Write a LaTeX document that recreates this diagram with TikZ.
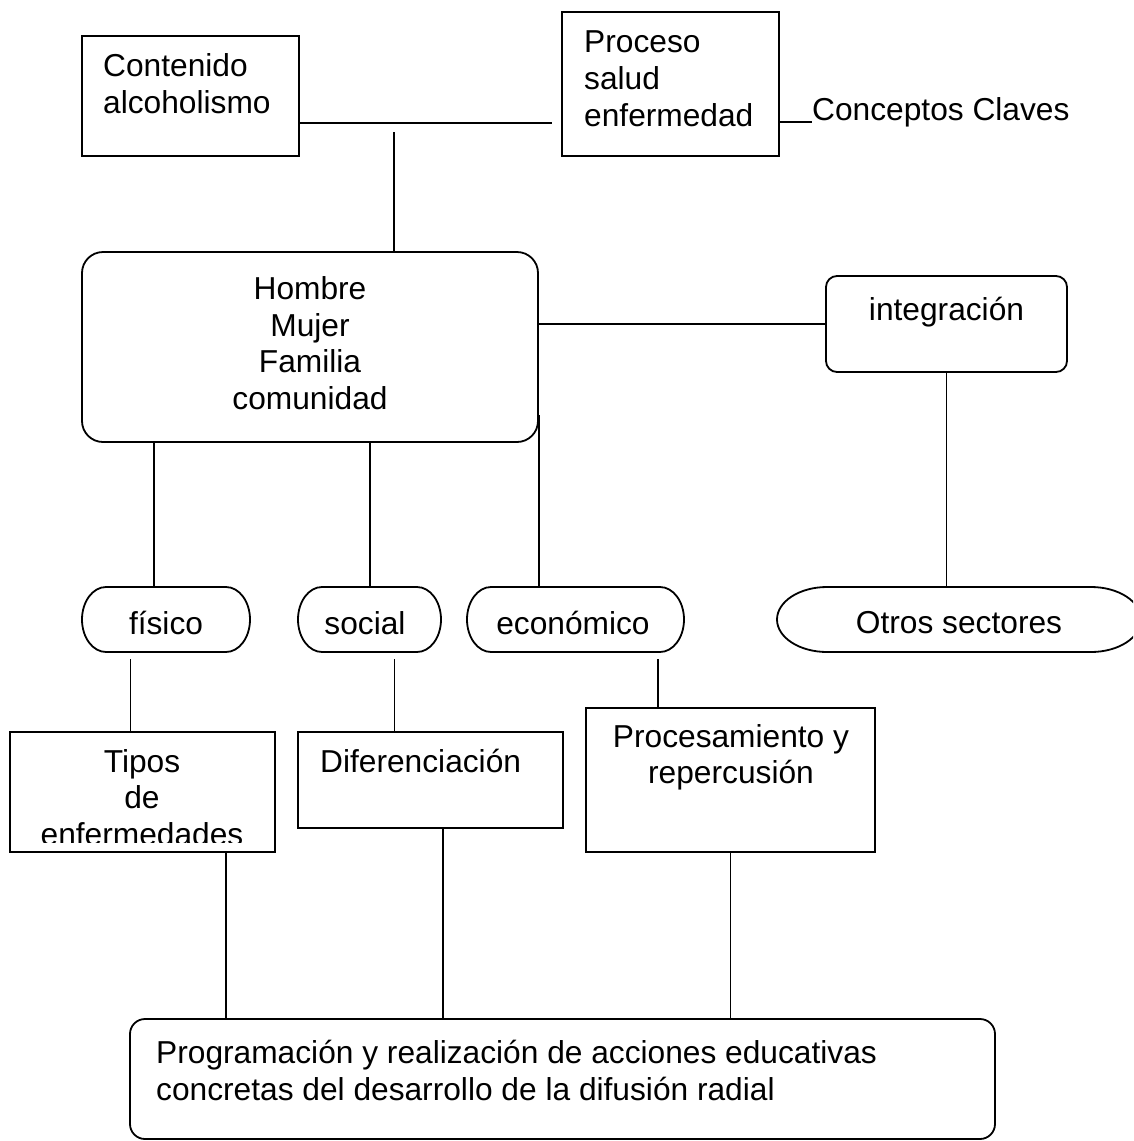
\documentclass[tikz,border=0pt]{standalone}
\usepackage{fontspec}
\setmainfont{Liberation Sans}
\newcommand\pillshape[5]{%
 \pgfmathsetmacro\pxa{#1+#5}%
 \pgfmathsetmacro\pxb{#2-#5}%
 \pgfmathsetmacro\pym{(#3+#4)/2}%
 \pgfmathsetmacro\pkx{0.5523*#5}%
 \pgfmathsetmacro\pky{0.5523*(#4-#3)/2}%
 \draw[pillline] (\pxa,#3) -- (\pxb,#3)
   .. controls ({\pxb+\pkx},#3) and (#2,{\pym-\pky}) .. (#2,\pym)
   .. controls (#2,{\pym+\pky}) and ({\pxb+\pkx},#4) .. (\pxb,#4)
   -- (\pxa,#4)
   .. controls ({\pxa-\pkx},#4) and (#1,{\pym+\pky}) .. (#1,\pym)
   .. controls (#1,{\pym-\pky}) and ({\pxa-\pkx},#3) .. (\pxa,#3) -- cycle;}
\begin{document}
\begin{tikzpicture}[x=1pt,y=-1pt,
  box/.style={draw, line width=1.8pt, inner sep=0pt},
  shp/.style={inner sep=0pt},
  pillline/.style={line width=1.8pt},
  conn/.style={line width=1.3pt},
  txt/.style={inner sep=0pt, font=\fontsize{31.7}{36.5}\selectfont}]
\useasboundingbox (0,0) rectangle (1133,1141);
\clip (0,0) rectangle (1133,1141);

% shapes
\node[box, minimum width=217pt, minimum height=120pt] (contenido) at (190.5,96) {};
\node[box, minimum width=217pt, minimum height=144pt] (proceso) at (670.5,84) {};
\node[box, rounded corners=21pt, minimum width=456pt, minimum height=190pt] (hombre) at (310,347) {};
\node[box, rounded corners=11pt, minimum width=241pt, minimum height=96pt] (integ) at (946.5,324) {};
\node[shp, minimum width=168pt, minimum height=65pt] (fisico) at (166,619.5) {};
\node[shp, minimum width=143pt, minimum height=65pt] (social) at (369.5,619.5) {};
\node[shp, minimum width=217pt, minimum height=65pt] (econ) at (575.5,619.5) {};
\node[shp, minimum width=364pt, minimum height=65pt] (otros) at (959,619.5) {};
\pillshape{82}{250}{587}{652}{24}
\pillshape{298}{441}{587}{652}{24}
\pillshape{467}{684}{587}{652}{24}
\pillshape{777}{1141}{587}{652}{50}
\node[box, minimum width=265pt, minimum height=120pt] (tipos) at (142.5,792) {};
\node[box, minimum width=265pt, minimum height=96pt] (dif) at (430.5,780) {};
\node[box, minimum width=289pt, minimum height=144pt] (proc) at (730.5,780) {};
\node[box, rounded corners=15pt, minimum width=865pt, minimum height=120pt] (prog) at (562.5,1079) {};

% texts
\node[txt, anchor=base west] (tc1) at (103,76) {Contenido};
\node[txt, anchor=base west] (tc2) at (103,113) {alcoholismo};
\node[txt, anchor=base west] (tp1) at (584,52) {Proceso};
\node[txt, anchor=base west] (tp2) at (584,89) {salud};
\node[txt, anchor=base west] (tp3) at (584,126) {enfermedad};
\node[txt, anchor=base west] (conceptos) at (812,120) {Conceptos Claves};
\node[txt, anchor=base] (th1) at (310,299.5) {Hombre};
\node[txt, anchor=base] (th2) at (310,336) {Mujer};
\node[txt, anchor=base] (th3) at (310,372.5) {Familia};
\node[txt, anchor=base] (th4) at (310,409) {comunidad};
\node[txt, anchor=base] (ti) at (946.5,320) {integración};
\node[txt, anchor=base] (tf) at (166,634) {físico};
\node[txt, anchor=base] (ts) at (365,634) {social};
\node[txt, anchor=base] (te) at (573,634) {económico};
\node[txt, anchor=base] (to) at (959,633) {Otros sectores};
\node[txt, anchor=base] (tt1) at (142,772) {Tipos};
\node[txt, anchor=base] (tt2) at (142,808.5) {de};
\begin{scope}
\clip (0,0) rectangle (1133,842);
\node[txt, anchor=base] (tt3) at (142,845) {enfermedades};
\end{scope}
\node[txt, anchor=base west] (td) at (320,772) {Diferenciación};
\node[txt, anchor=base] (tr1) at (731,747) {Procesamiento y};
\node[txt, anchor=base] (tr2) at (731,783) {repercusión};
\node[txt, anchor=base west] (tg1) at (156,1063) {Programación y realización de acciones educativas};
\node[txt, anchor=base west] (tg2) at (156,1100) {concretas del desarrollo de la difusión radial};

% connectors
\coordinate (c1) at (552,123);
\coordinate (c2) at (394,132);
\draw[conn] ([yshift=-27pt]contenido.east) -- (c1);
\draw[conn] (c2) -- ([xshift=84pt]hombre.north);
\draw[conn] ([yshift=-38pt]proceso.east) -- ([yshift=-38pt]proceso.east -| conceptos.west);
\draw[conn] (hombre.east |- integ.west) -- (integ.west);
\draw[conn] (integ.south) -- (integ.south |- otros.north);
\draw[conn] ([xshift=-156pt]hombre.south) -- ([xshift=-156pt]hombre.south |- fisico.north);
\draw[conn] ([xshift=60pt]hombre.south) -- ([xshift=60pt]hombre.south |- social.north);
\draw[conn] ([yshift=-68pt]hombre.east) -- (hombre.east |- econ.north);
\draw[conn] ([xshift=-35.5pt,yshift=-7pt]fisico.south) -- ([xshift=-35.5pt]fisico.south |- tipos.north);
\draw[conn] ([xshift=25pt,yshift=-7pt]social.south) -- ([xshift=25pt]social.south |- dif.north);
\draw[conn] ([xshift=82.5pt,yshift=-7pt]econ.south) -- ([xshift=82.5pt]econ.south |- proc.north);
\draw[conn] ([xshift=83.5pt]tipos.south) -- ([xshift=83.5pt]tipos.south |- prog.north);
\draw[conn] ([xshift=12.5pt]dif.south) -- ([xshift=12.5pt]dif.south |- prog.north);
\draw[conn] (proc.south) -- (proc.south |- prog.north);
\end{tikzpicture}
\end{document}
